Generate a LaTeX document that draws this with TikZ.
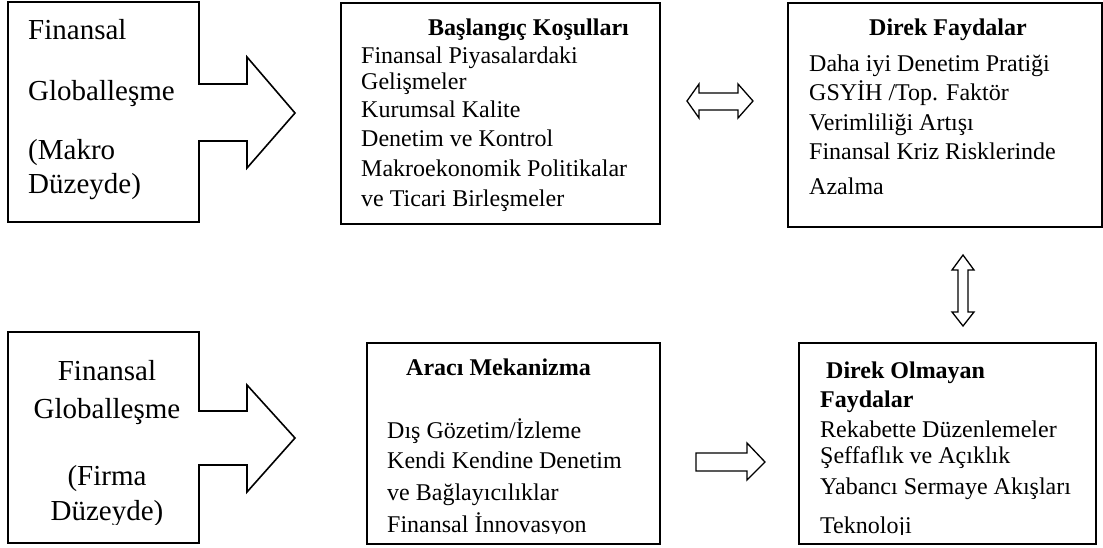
\documentclass[tikz,border=0pt]{standalone}
\usepackage{fontspec}
\setmainfont{Liberation Serif}
\begin{document}
\begin{tikzpicture}[x=1pt,y=-1pt,
  box/.style={draw=black, line width=1.6pt, fill=none, inner sep=0pt, anchor=north west},
  shp/.style={draw=black, line width=1.6pt, line join=miter},
  blk/.style={draw=black, line width=1.3pt, line join=miter, fill=white},
  txt/.style={anchor=base west, inner sep=0pt, font=\fontsize{24}{28.8}\selectfont},
  ttl/.style={anchor=base west, inner sep=0pt, font=\bfseries\fontsize{24}{28.8}\selectfont},
  big/.style={anchor=base west, inner sep=0pt, font=\fontsize{29}{34}\selectfont},
  bigc/.style={anchor=base, inner sep=0pt, font=\fontsize{29}{34}\selectfont}]
\useasboundingbox (0,0) rectangle (1103,547);
\fill[white] (0,0) rectangle (1103,547);

% ---- top-left composite shape
\draw[shp] (8,2) -- (199,2) -- (199,84) -- (247,84) -- (247,57) -- (295,113)
  -- (247,168) -- (247,141) -- (199,141) -- (199,222) -- (8,222) -- cycle;
\node[big] (tl1) at (28,39) {Finansal};
\node[big] (tl2) at (28,100) {Globalleşme};
\node[big] (tl3) at (28,159) {(Makro};
\node[big] (tl4) at (28,193) {Düzeyde)};

% ---- bottom-left composite shape
\draw[shp] (8,332) -- (199,332) -- (199,411) -- (247,411) -- (247,385) -- (295,438)
  -- (247,492) -- (247,465) -- (199,465) -- (199,543) -- (8,543) -- cycle;
\begin{scope}
\clip (8,332) rectangle (199,524);
\node[bigc] (bl1) at (107,380) {Finansal};
\node[bigc] (bl2) at (107,418) {Globalleşme};
\node[bigc] (bl3) at (107,485) {(Firma};
\node[bigc] (bl4) at (107,520) {Düzeyde)};
\end{scope}

% ---- top-middle box
\node[box, minimum width=319pt, minimum height=221pt] (tm) at (340,2) {};
\node[ttl] (tmt) at (428,35) {Başlangıç Koşulları};
\node[txt] (tm1) at (361,63) {Finansal Piyasalardaki};
\node[txt] (tm2) at (361,89) {Gelişmeler};
\node[txt] (tm3) at (361,117) {Kurumsal Kalite};
\node[txt] (tm4) at (361,146) {Denetim ve Kontrol};
\node[txt] (tm5) at (361,176) {Makroekonomik Politikalar};
\node[txt] (tm6) at (361,206) {ve Ticari Birleşmeler};

% ---- top-right box
\node[box, minimum width=314pt, minimum height=224pt] (tr) at (787,2) {};
\node[ttl] (trt) at (869,35) {Direk Faydalar};
\node[txt] (tr1) at (809,71) {Daha iyi Denetim Pratiği};
\node[txt] (tr2) at (809,100) {GSYİH /Top. Faktör};
\node[txt] (tr3) at (809,130) {Verimliliği Artışı};
\node[txt] (tr4) at (809,159) {Finansal Kriz Risklerinde};
\node[txt] (tr5) at (809,194) {Azalma};

% ---- bottom-middle box
\node[box, minimum width=293pt, minimum height=201pt] (bm) at (366,342) {};
\begin{scope}
\clip (366,342) rectangle (659,533.5);
\node[ttl] (bmt) at (406,375) {Aracı Mekanizma};
\node[txt] (bm1) at (387,438) {Dış Gözetim/İzleme};
\node[txt] (bm2) at (387,468) {Kendi Kendine Denetim};
\node[txt] (bm3) at (387,500) {ve Bağlayıcılıklar};
\node[txt] (bm4) at (387,532) {Finansal İnnovasyon};
\end{scope}

% ---- bottom-right box
\node[box, minimum width=297pt, minimum height=201pt] (br) at (798,342) {};
\begin{scope}
\clip (798,342) rectangle (1095,534);
\node[ttl] (brt) at (826,378) {Direk Olmayan};
\node[ttl] (brt2) at (820,407) {Faydalar};
\node[txt] (br1) at (820,437) {Rekabette Düzenlemeler};
\node[txt] (br2) at (820,463) {Şeffaflık ve Açıklık};
\node[txt] (br3) at (820,494) {Yabancı Sermaye Akışları};
\node[txt] (br4) at (820,533) {Teknoloji};
\end{scope}

% ---- horizontal double block arrow (between top-middle and top-right)
\draw[blk] (687,101) -- (699,84) -- (699,93) -- (738,93) -- (738,84) -- (753,101)
  -- (738,118) -- (738,110) -- (699,110) -- (699,118) -- cycle;

% ---- vertical double block arrow (between top-right and bottom-right)
\draw[blk] (963,255) -- (974,270) -- (968,270) -- (968,312) -- (974,312) -- (963,326)
  -- (952,312) -- (958,312) -- (958,270) -- (952,270) -- cycle;

% ---- right block arrow (between bottom-middle and bottom-right)
\draw[blk] (696,453) -- (747,453) -- (747,443) -- (765,462) -- (747,480) -- (747,471)
  -- (696,471) -- cycle;
\end{tikzpicture}
\end{document}
